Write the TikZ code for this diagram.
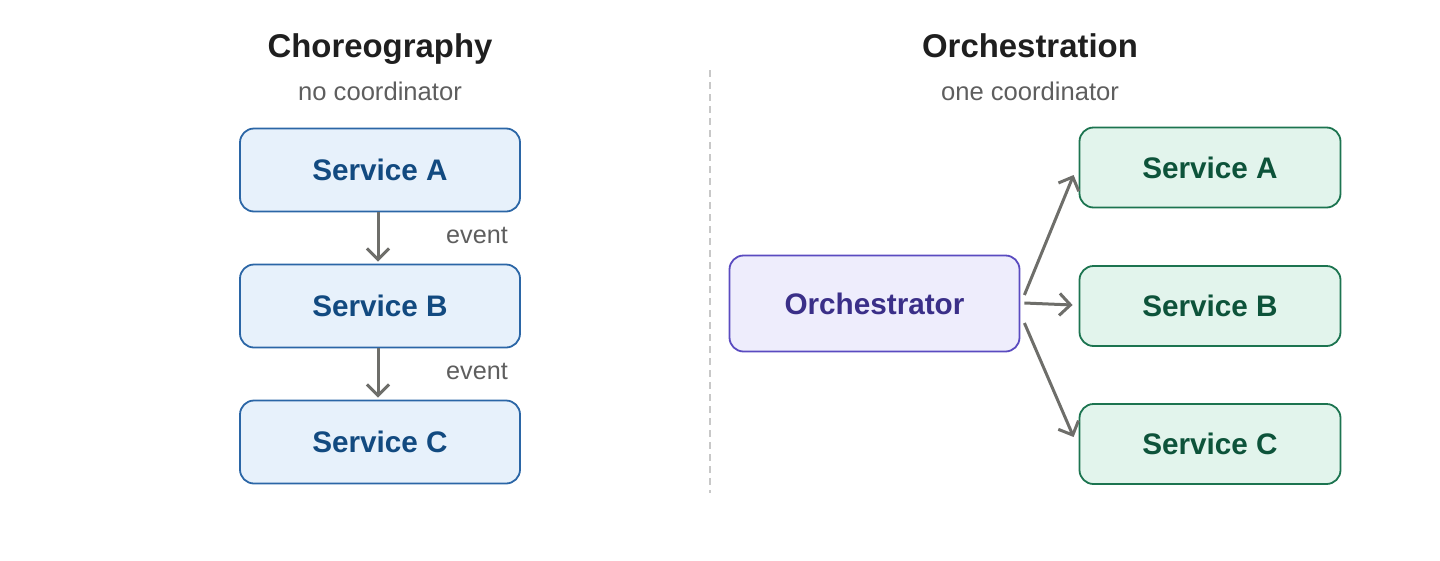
\documentclass[tikz,border=0pt]{standalone}
\usepackage{fontspec}
\setmainfont{Liberation Sans}
\usetikzlibrary{arrows.meta,calc}
\definecolor{lfill}{HTML}{E7F1FB}
\definecolor{ldraw}{HTML}{2B66A6}
\definecolor{ltext}{HTML}{124A80}
\definecolor{rfill}{HTML}{E2F4EC}
\definecolor{rdraw}{HTML}{1C7450}
\definecolor{rtext}{HTML}{0D533A}
\definecolor{ofill}{HTML}{EEEDFC}
\definecolor{odraw}{HTML}{5A4BC0}
\definecolor{otext}{HTML}{3A2F88}
\definecolor{arrc}{HTML}{6E6E6A}
\definecolor{titlec}{HTML}{1F1F1F}
\definecolor{subc}{HTML}{5E5E5E}
\definecolor{sepc}{HTML}{C8C8C8}
\tikzset{
  box/.style={rounded corners=14pt, line width=1.8pt, inner sep=0pt,
    font=\fontsize{29.7}{34}\selectfont\bfseries},
  lbox/.style={box, draw=ldraw, fill=lfill, text=ltext, minimum width=280pt, minimum height=83pt},
  rbox/.style={box, draw=rdraw, fill=rfill, text=rtext, minimum width=261pt, minimum height=80pt},
  obox/.style={box, draw=odraw, fill=ofill, text=otext, minimum width=290pt, minimum height=96pt},
  titletxt/.style={anchor=base, inner sep=0pt, text=titlec, font=\fontsize{32.9}{38}\selectfont\bfseries},
  subtxt/.style={anchor=base, inner sep=0pt, text=subc, font=\fontsize{25.6}{30}\selectfont},
  evtxt/.style={anchor=base, inner sep=0pt, text=subc, font=\fontsize{25.2}{30}\selectfont},
  arr/.style={draw=arrc, line width=3pt, -{Straight Barb[length=11pt,width=22pt,line width=3pt]}},
}
\begin{document}
\begin{tikzpicture}[x=1pt,y=-1pt]
\useasboundingbox (0,0) rectangle (1440,560);
% left
\node[titletxt] (t1) at (380,57) {Choreography};
\node[subtxt] (s1) at (380,100) {no coordinator};
\node[lbox] (lA) at (380,170) {Service A};
\node[lbox] (lB) at (380,306) {Service B};
\node[lbox] (lC) at (380,442) {Service C};
\draw[arr] ($(lA.south)+(-2,0)$) -- ($(lB.north)+(-2,-2)$);
\draw[arr] ($(lB.south)+(-2,0)$) -- ($(lC.north)+(-2,-2)$);
\node[evtxt] (e1) at (477,243) {event};
\node[evtxt] (e2) at (477,379) {event};
% separator
\coordinate (d1) at (710,70);
\coordinate (d2) at (710,493);
\draw[sepc, line width=1.5pt, dash pattern=on 7pt off 5pt] (d1) -- (d2);
% right
\node[titletxt] (t2) at (1030,57) {Orchestration};
\node[subtxt] (s2) at (1030,100) {one coordinator};
\node[obox] (orch) at (874.5,303.5) {Orchestrator};
\node[rbox] (rA) at (1210,167.5) {Service A};
\node[rbox] (rB) at (1210,306) {Service B};
\node[rbox] (rC) at (1210,444) {Service C};
\draw[arr] ($(orch.east)+(4,-8.5)$) -- ($(rA.west)+(-5,7.5)$);
\draw[arr] ($(orch.east)+(4,-0.5)$) -- ($(rB.west)+(-6,-1)$);
\draw[arr] ($(orch.east)+(4,19.5)$) -- ($(rC.west)+(-5,-7)$);
\end{tikzpicture}
\end{document}
